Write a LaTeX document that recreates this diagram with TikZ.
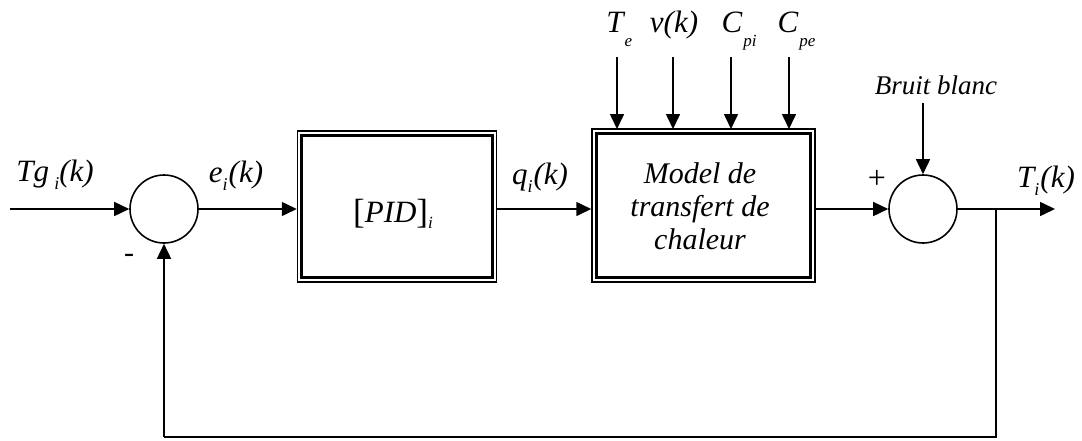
\documentclass[tikz,border=0pt]{standalone}
\usepackage{fontspec}
\setmainfont{Liberation Serif}
\usetikzlibrary{arrows.meta}
% italic subscript set below the baseline
\newcommand\lowsub[2][0.28em]{\raisebox{-#1}{\fontsize{18}{18}\selectfont\itshape #2}}
% letter centred on its point, with its subscript hanging to the right
\newcommand\capsub[2]{#1\rlap{\kern1pt\raisebox{-0.48em}{\fontsize{17}{17}\selectfont\itshape #2}}}
\tikzset{
  wire/.style={line width=1.6pt},
  arr/.style={wire,-{Triangle[length=15pt,width=14pt]}},
  sumnode/.style={circle,draw,line width=1.6pt,minimum size=68pt,inner sep=0pt},
  lbl/.style={font=\fontsize{31}{33}\selectfont\itshape,inner sep=0pt,anchor=base},
  blk/.style={draw,line width=1.5pt,inner sep=0pt},
  inner/.style={line width=2.7pt},
}
\begin{document}
\begin{tikzpicture}[x=1pt,y=-1pt]
\useasboundingbox (0,0) rectangle (1082,440);
% blocks (double frame: thin outer, thick inner)
\node[blk,minimum width=199pt,minimum height=151pt] (pid) at (397,206.5) {};
\draw[inner] ([shift={(5,5)}]pid.north west) rectangle ([shift={(-5,-5)}]pid.south east);
\node[font=\fontsize{31}{32}\selectfont,anchor=base] at (393,222) {\raisebox{-0.05em}{\fontsize{35}{35}\selectfont[}\textit{PID}\raisebox{-0.05em}{\fontsize{35}{35}\selectfont]}\raisebox{-0.2em}{\fontsize{17}{17}\selectfont\itshape i}};
\node[blk,minimum width=223pt,minimum height=153pt] (mod) at (703.5,205.5) {};
\draw[inner] ([shift={(5,5)}]mod.north west) rectangle ([shift={(-5,-5)}]mod.south east);
\node[align=center,font=\fontsize{30}{33}\selectfont\itshape] at (700,206) {Model de\\transfert de\\chaleur};
% summing junctions
\node[sumnode] (s1) at (164,209) {};
\node[sumnode] (s2) at (923,209) {};
% input and forward path
\coordinate (in) at (10,209);
\draw[arr] (in) -- (s1.west);
\draw[arr] (s1.east) -- (pid.west |- s1.east);
\draw[arr] (pid.east |- s1.east) -- (mod.west |- s1.east);
\draw[arr] (mod.east |- s2.west) -- (s2.west);
\coordinate (out) at (1055,209);
\coordinate (br) at (996,209);
\draw[arr] (s2.east) -- (out);
% feedback loop
\coordinate (fb) at (996,437);
\coordinate (fbl) at (164,437);
\draw[wire] (br) -- (fb) -- (fbl);
\draw[arr] (fbl) -- (s1.south);
% disturbance inputs
\foreach \x/\n in {617/a,673/b,731/c,789/d}{
  \coordinate (t\n) at (\x,57);
  \draw[arr] (t\n) -- (\x,129);
}
\coordinate (nz) at (923,103);
\draw[arr] (nz) -- (s2.north);
% labels
\node[lbl] at (55,181) {Tg\,\lowsub{i}(k)};
\node[lbl] at (236,182) {e\lowsub{i}\kern1pt(k)};
\node[lbl] at (540,184) {q\lowsub{i}\kern1pt(k)};
\node[lbl] at (1046,187) {T\lowsub{i}\kern1pt(k)};
\node[lbl] at (615,32) {\capsub{T}{e}};
\node[lbl] at (674,32) {v(k)};
\node[lbl] at (732,32) {\capsub{C}{pi}};
\node[lbl] at (788,32) {\capsub{C}{pe}};
\node[font=\fontsize{27}{29}\selectfont\itshape,anchor=base] at (936,94) {Bruit blanc};
\node[font=\fontsize{32}{32}\selectfont,anchor=base] at (877,188) {+};
\node[font=\fontsize{30}{30}\selectfont,anchor=base] at (129,262) {-};
\end{tikzpicture}
\end{document}
